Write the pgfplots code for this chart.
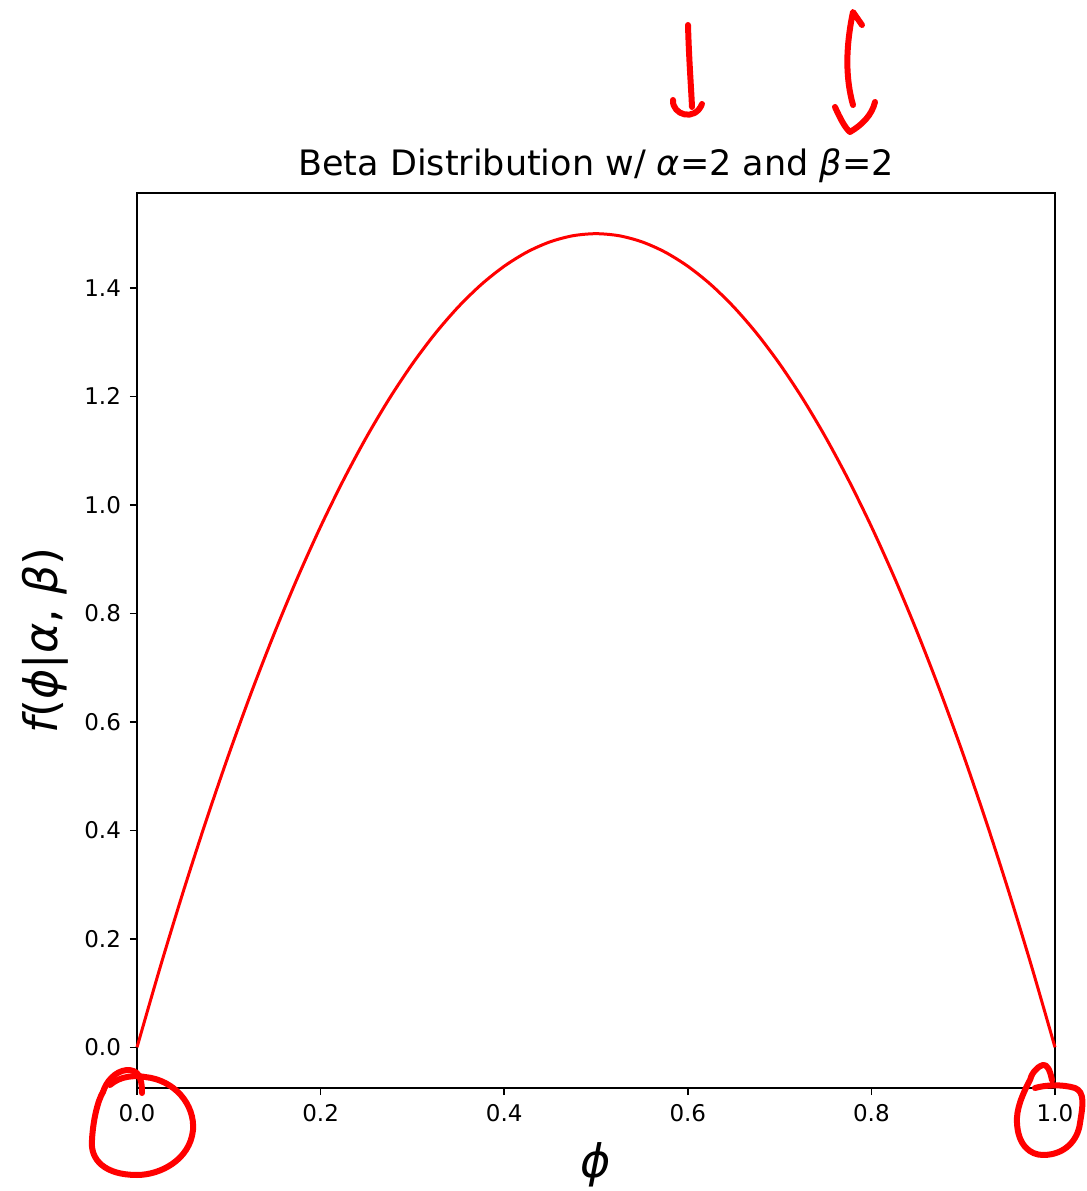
\documentclass[border=0pt]{standalone}
\usepackage{fontspec}
\setmainfont{DejaVu Sans}
\usepackage{pgfplots}
\pgfplotsset{compat=1.18}
\begin{document}
\begin{tikzpicture}
\useasboundingbox (-68.5pt,-51.5pt) rectangle (475pt,544pt);
\begin{axis}[
  at={(0,0)}, anchor=south west,
  scale only axis, width=459pt, height=447.5pt,
  xmin=0, xmax=1, ymin=-0.075, ymax=1.575,
  xtick={0,0.2,0.4,0.6,0.8,1.0},
  ytick={0,0.2,0.4,0.6,0.8,1.0,1.2,1.4},
  tick align=outside, major tick length=3.5pt,
  tick style={black, line width=0.8pt},
  axis line style={line width=0.9pt},
  xtick pos=bottom, ytick pos=left,
  /pgf/number format/assume math mode=true,
  /pgf/number format/.cd, fixed, fixed zerofill, precision=1, /pgfplots/.cd,
  tick label style={font=\fontsize{11.5}{13}\selectfont},
  xticklabel style={yshift=-1pt},
  yticklabel style={xshift=-1pt},
  title={Beta Distribution w/ {\itshape α}=2 and {\itshape β}=2},
  title style={at={(axis description cs:0.5,1)}, anchor=base, yshift=3pt, font=\fontsize{17.5}{20}\selectfont},
  xlabel={\itshape ϕ},
  xlabel style={at={(axis description cs:0.5,0)}, anchor=center, yshift=-38.5pt, font=\fontsize{23}{26}\selectfont},
  ylabel={{\itshape f}(\textit{ϕ}|\textit{α}, \textit{β})},
  ylabel style={at={(axis description cs:0,0.5)}, anchor=center, rotate=0, yshift=46pt, font=\fontsize{23}{26}\selectfont},
  clip=false,
]
\addplot[red, line width=1.5pt, smooth] coordinates {
(0,0) (0.025,0.14625) (0.05,0.285) (0.075,0.41625) (0.1,0.54) (0.125,0.65625)
(0.15,0.765) (0.175,0.86625) (0.2,0.96) (0.225,1.04625) (0.25,1.125) (0.275,1.19625)
(0.3,1.26) (0.325,1.31625) (0.35,1.365) (0.375,1.40625) (0.4,1.44) (0.425,1.46625)
(0.45,1.485) (0.475,1.49625) (0.5,1.5) (0.525,1.49625) (0.55,1.485) (0.575,1.46625)
(0.6,1.44) (0.625,1.40625) (0.65,1.365) (0.675,1.31625) (0.7,1.26) (0.725,1.19625)
(0.75,1.125) (0.775,1.04625) (0.8,0.96) (0.825,0.86625) (0.85,0.765) (0.875,0.65625)
(0.9,0.54) (0.925,0.41625) (0.95,0.285) (0.975,0.14625) (1,0)
};
\end{axis}
\begin{scope}[shift={(-68.5pt,544pt)}, x=0.5pt, y=-0.5pt, red, line width=3pt, line cap=round, line join=round]
% left arrow
\draw (688,25) .. controls (689,60) and (691,85) .. (692,107);
\draw (673,100) .. controls (672,115) and (695,122) .. (702,104);
% right arrow
\draw (862,25) -- (853,12) .. controls (845,50) and (846,80) .. (853,105);
\draw (835,107) .. controls (840,118) and (845,128) .. (850,132) .. controls (862,125) and (872,115) .. (875,102);
% left circle
\draw (142,1093) .. controls (142,1075) and (137,1070) .. (127,1070) .. controls (115,1071) and (106,1082) .. (103,1092);
\draw (110,1085) .. controls (120,1076) and (135,1075) .. (145,1077) .. controls (175,1080) and (195,1105) .. (193,1130)
  .. controls (190,1160) and (160,1175) .. (137,1175) .. controls (105,1175) and (90,1160) .. (92,1140)
  .. controls (93,1120) and (98,1100) .. (103,1092);
% right circle
\draw (1052,1080) .. controls (1050,1070) and (1047,1064) .. (1043,1065) .. controls (1036,1067) and (1031,1075) .. (1030,1080)
  .. controls (1022,1095) and (1016,1110) .. (1017,1123) .. controls (1018,1145) and (1030,1155) .. (1043,1155)
  .. controls (1065,1155) and (1078,1140) .. (1080,1123) .. controls (1083,1105) and (1085,1092) .. (1075,1088)
  .. controls (1062,1084) and (1045,1085) .. (1035,1088);
\end{scope}
\end{tikzpicture}
\end{document}
